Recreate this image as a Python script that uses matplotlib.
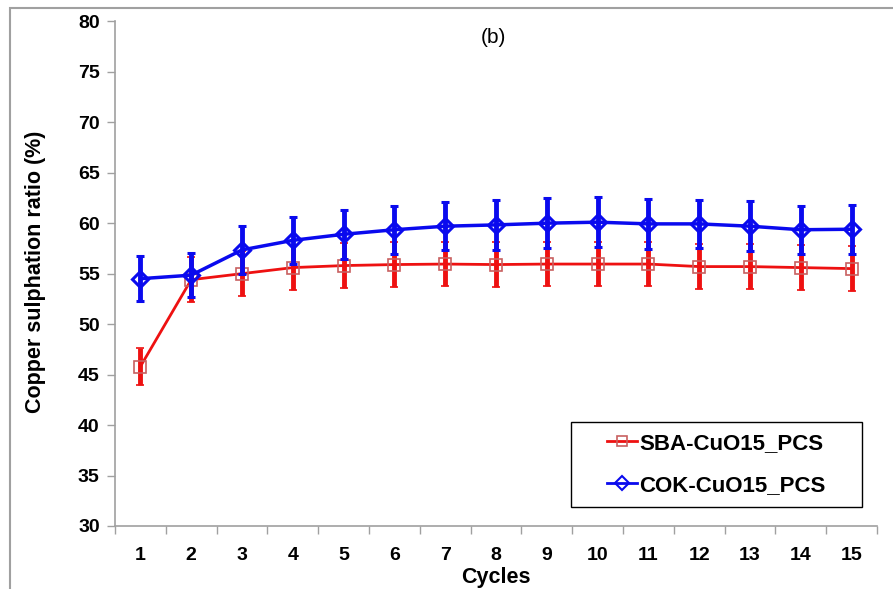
import matplotlib
matplotlib.use("Agg")
import matplotlib.pyplot as plt
import numpy as np
from matplotlib.patches import Rectangle
from matplotlib.lines import Line2D

cycles = list(range(1, 16))
sba = [45.8, 54.4, 55.0, 55.6, 55.8, 55.9, 55.95, 55.9, 55.95, 55.95, 55.95, 55.7, 55.7, 55.6, 55.5]
sba_err = [1.85, 2.2, 2.2, 2.2, 2.2, 2.2, 2.2, 2.2, 2.2, 2.2, 2.2, 2.2, 2.2, 2.2, 2.2]
cok = [54.5, 54.85, 57.35, 58.3, 58.9, 59.35, 59.7, 59.83, 60.0, 60.1, 59.93, 59.93, 59.7, 59.35, 59.4]
cok_err = [2.2, 2.2, 2.35, 2.35, 2.4, 2.4, 2.4, 2.45, 2.5, 2.45, 2.45, 2.4, 2.45, 2.4, 2.45]
yticks = list(range(30, 81, 5))
labels = ['SBA-CuO15_PCS', 'COK-CuO15_PCS']

plt.rcParams['font.family'] = ['Liberation Sans', 'DejaVu Sans']

W, H = 893, 589
fig = plt.figure(figsize=(W / 100, H / 100), dpi=100)
fig.patches.append(Rectangle((10 / W, -0.1), 1.2, 1 - 8 / H + 0.1, transform=fig.transFigure,
                             fill=False, edgecolor='#a0a0a0', linewidth=1.5, zorder=0))
ax_l, ax_r, ax_t, ax_b = 115, 877, 21.3, 526
ax = fig.add_axes([ax_l / W, 1 - ax_b / H, (ax_r - ax_l) / W, (ax_b - ax_t) / H])

red = '#ee1111'
blue = '#0a0aee'

ax.errorbar(cycles, sba, yerr=sba_err, color=red, lw=2, ecolor=red, elinewidth=3.5,
            capsize=3, capthick=3.5, marker='s', markersize=8, markerfacecolor='none',
            markeredgecolor='#c86060', markeredgewidth=1.2, zorder=3)
ax.errorbar(cycles, cok, yerr=cok_err, color=blue, lw=2.5, ecolor=blue, elinewidth=3.5,
            capsize=3, capthick=3.5, marker='D', markersize=8, markerfacecolor='none',
            markeredgecolor=blue, markeredgewidth=2.2, zorder=4)

ax.set_xlim(0.5, 15.5)
ax.set_ylim(30, 80)
ax.set_yticks(yticks)
ax.set_xticks(cycles)
ax.set_xticks(np.arange(0.5, 16, 1), minor=True)
ax.tick_params(axis='x', which='major', length=0, pad=15, labelsize=14)
ax.tick_params(axis='x', which='minor', length=6, color='#a0a0a0', width=1)
ax.tick_params(axis='y', which='major', length=6, color='#a0a0a0', width=1, labelsize=14, pad=5)
for lab in ax.get_xticklabels() + ax.get_yticklabels():
    lab.set_fontweight('bold')

for s in ['top', 'right']:
    ax.spines[s].set_visible(False)
for s in ['left', 'bottom']:
    ax.spines[s].set_color('#a0a0a0')
    ax.spines[s].set_linewidth(1.2)

axw, axh = ax_r - ax_l, ax_b - ax_t
ax.set_ylabel('Copper sulphation ratio (%)', fontsize=15.5, fontweight='bold', va='center')
ax.yaxis.set_label_coords((35 - ax_l) / axw, (ax_b - 272) / axh)
ax.set_xlabel('Cycles', fontsize=15.5, fontweight='bold', va='center')
ax.xaxis.set_label_coords((496 - ax_l) / axw, (ax_b - 577) / axh)
ax.text((493 - ax_l) / axw, (ax_b - 38) / axh, '(b)', transform=ax.transAxes,
        ha='center', va='center', fontsize=15)

# legend box
lx0, lx1, ly0, ly1 = 571, 862, 422, 507
ax.add_patch(Rectangle(((lx0 - ax_l) / axw, (ax_b - ly1) / axh), (lx1 - lx0) / axw, (ly1 - ly0) / axh,
                       transform=ax.transAxes, fill=False, edgecolor='black', linewidth=1.0,
                       zorder=5, clip_on=False))
h1 = Line2D([], [], color=red, lw=2, marker='s', markersize=7, markerfacecolor='none',
            markeredgecolor='#c86060', markeredgewidth=1.2)
h2 = Line2D([], [], color=blue, lw=2, marker='D', markersize=7, markerfacecolor='none',
            markeredgecolor=blue, markeredgewidth=1.5)
leg = ax.legend([h1, h2], labels, loc='center left',
                bbox_to_anchor=((607 - ax_l) / axw, (ax_b - 464.5) / axh),
                prop={'weight': 'bold', 'size': 16}, frameon=False,
                handlelength=1.35, handletextpad=0.1, labelspacing=0.95,
                borderpad=0, borderaxespad=0)

fig.savefig('out.png', dpi=100)
